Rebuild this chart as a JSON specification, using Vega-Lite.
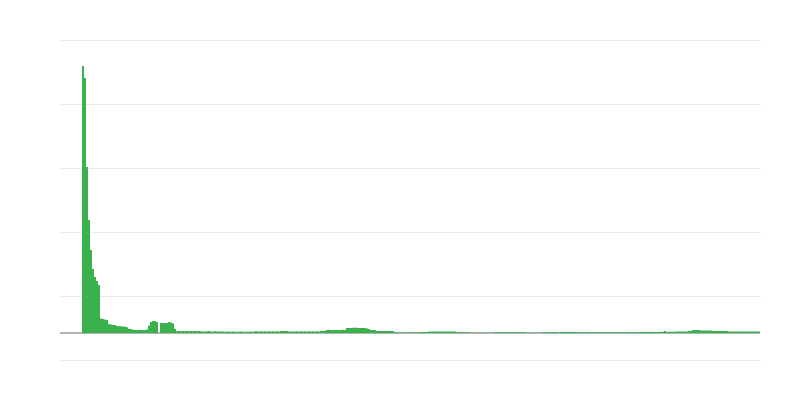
{
  "$schema": "https://vega.github.io/schema/vega-lite/v6.json",
  "width": 700,
  "height": 320,
  "autosize": {"type": "none"},
  "padding": {"left": 60, "top": 40, "right": 40, "bottom": 40},
  "background": "white",
  "config": {"view": {"stroke": null}},
  "data": {"values": [
    {"d":0,"v":267},{"d":1,"v":255},{"d":2,"v":166},{"d":3,"v":113},{"d":4,"v":83},{"d":5,"v":64},{"d":6,"v":56},{"d":7,"v":52},{"d":8,"v":48},{"d":9,"v":14.5},
    {"d":10,"v":14},{"d":11,"v":13.5},{"d":12,"v":13},{"d":13,"v":9},{"d":14,"v":8.5},{"d":15,"v":8},{"d":16,"v":8},{"d":17,"v":7},{"d":18,"v":6.7},{"d":19,"v":6.7},
    {"d":20,"v":6.5},{"d":21,"v":6.5},{"d":22,"v":5.7},{"d":23,"v":4.3},{"d":24,"v":4},{"d":25,"v":3.2},{"d":26,"v":3},{"d":27,"v":3},{"d":28,"v":3.2},{"d":29,"v":3},
    {"d":30,"v":3},{"d":31,"v":3},{"d":32,"v":3.5},{"d":33,"v":7.5},{"d":34,"v":11},{"d":35,"v":12},{"d":36,"v":12},{"d":37,"v":11},{"d":38,"v":0},{"d":39,"v":10},
    {"d":40,"v":10},{"d":41,"v":10},{"d":42,"v":10},{"d":43,"v":11},{"d":44,"v":10.5},{"d":45,"v":9.5},{"d":46,"v":4.3},{"d":47,"v":1.8},{"d":48,"v":2},{"d":49,"v":1.8},
    {"d":50,"v":2},{"d":51,"v":1.8},{"d":52,"v":2},{"d":53,"v":1.8},{"d":54,"v":2},{"d":55,"v":1.8},{"d":56,"v":2},{"d":57,"v":1.8},{"d":58,"v":2},{"d":59,"v":1.8},
    {"d":60,"v":1.5},{"d":61,"v":1.5},{"d":62,"v":1.8},{"d":63,"v":2},{"d":64,"v":1.6},{"d":65,"v":1.5},{"d":66,"v":1.8},{"d":67,"v":1.6},{"d":68,"v":1.5},{"d":69,"v":1.6},
    {"d":70,"v":1.5},{"d":71,"v":1.3},{"d":72,"v":1.4},{"d":73,"v":1.3},{"d":74,"v":1.3},{"d":75,"v":1.4},{"d":76,"v":1.3},{"d":77,"v":1.3},{"d":78,"v":1.3},{"d":79,"v":1.4},
    {"d":80,"v":1.3},{"d":81,"v":1.3},{"d":82,"v":1.3},{"d":83,"v":1.3},{"d":84,"v":1.4},{"d":85,"v":1.3},{"d":86,"v":1.8},{"d":87,"v":1.8},{"d":88,"v":1.6},{"d":89,"v":1.8},
    {"d":90,"v":1.6},{"d":91,"v":1.8},{"d":92,"v":1.6},{"d":93,"v":1.8},{"d":94,"v":1.6},{"d":95,"v":1.8},{"d":96,"v":1.6},{"d":97,"v":1.8},{"d":98,"v":1.6},{"d":99,"v":2},
    {"d":100,"v":2},{"d":101,"v":2},{"d":102,"v":2},{"d":103,"v":1.5},{"d":104,"v":1.6},{"d":105,"v":1.5},{"d":106,"v":1.5},{"d":107,"v":1.8},{"d":108,"v":1.6},{"d":109,"v":1.8},
    {"d":110,"v":1.6},{"d":111,"v":1.8},{"d":112,"v":1.6},{"d":113,"v":1.8},{"d":114,"v":1.6},{"d":115,"v":1.8},{"d":116,"v":1.6},{"d":117,"v":1.8},{"d":118,"v":1.6},{"d":119,"v":2},
    {"d":120,"v":2},{"d":121,"v":2.2},{"d":122,"v":3},{"d":123,"v":3.2},{"d":124,"v":3},{"d":125,"v":3},{"d":126,"v":3},{"d":127,"v":3},{"d":128,"v":3},{"d":129,"v":3},
    {"d":130,"v":3.2},{"d":131,"v":3},{"d":132,"v":5},{"d":133,"v":5},{"d":134,"v":5},{"d":135,"v":5.3},{"d":136,"v":5.3},{"d":137,"v":5.3},{"d":138,"v":5},{"d":139,"v":5},
    {"d":140,"v":5},{"d":141,"v":5},{"d":142,"v":4.5},{"d":143,"v":4},{"d":144,"v":3},{"d":145,"v":3},{"d":146,"v":3},{"d":147,"v":2},{"d":148,"v":2},{"d":149,"v":2},
    {"d":150,"v":2},{"d":151,"v":2},{"d":152,"v":2},{"d":153,"v":2},{"d":154,"v":2},{"d":155,"v":2},{"d":156,"v":1},{"d":157,"v":0.4},{"d":158,"v":0.4},{"d":159,"v":0.4},
    {"d":160,"v":0.4},{"d":161,"v":0.8},{"d":162,"v":0.4},{"d":163,"v":0.4},{"d":164,"v":0.4},{"d":165,"v":0.8},{"d":166,"v":0.8},{"d":167,"v":0.4},{"d":168,"v":0.4},{"d":169,"v":1},
    {"d":170,"v":1},{"d":171,"v":1},{"d":172,"v":1},{"d":173,"v":1.6},{"d":174,"v":1.5},{"d":175,"v":1.5},{"d":176,"v":1.6},{"d":177,"v":1.5},{"d":178,"v":1.5},{"d":179,"v":1.6},
    {"d":180,"v":1.5},{"d":181,"v":1.5},{"d":182,"v":1.6},{"d":183,"v":1.5},{"d":184,"v":1.5},{"d":185,"v":1.6},{"d":186,"v":1.5},{"d":187,"v":0.7},{"d":188,"v":0.7},{"d":189,"v":0.7},
    {"d":190,"v":0.7},{"d":191,"v":0.7},{"d":192,"v":0.7},{"d":193,"v":0.7},{"d":194,"v":0.3},{"d":195,"v":0.3},{"d":196,"v":0.3},{"d":197,"v":0.3},{"d":198,"v":0.3},{"d":199,"v":0.3},
    {"d":200,"v":0.3},{"d":201,"v":0.3},{"d":202,"v":0.3},{"d":203,"v":0.3},{"d":204,"v":0.3},{"d":205,"v":0.3},{"d":206,"v":0.7},{"d":207,"v":0.7},{"d":208,"v":0.7},{"d":209,"v":0.7},
    {"d":210,"v":0.7},{"d":211,"v":0.7},{"d":212,"v":0.7},{"d":213,"v":0.7},{"d":214,"v":0.7},{"d":215,"v":0.7},{"d":216,"v":0.7},{"d":217,"v":0.7},{"d":218,"v":0.7},{"d":219,"v":0.7},
    {"d":220,"v":0.7},{"d":221,"v":0.7},{"d":222,"v":0.3},{"d":223,"v":0.3},{"d":224,"v":0.3},{"d":225,"v":0.3},{"d":226,"v":0.3},{"d":227,"v":0.3},{"d":228,"v":0.3},{"d":229,"v":0.3},
    {"d":230,"v":0.7},{"d":231,"v":0.7},{"d":232,"v":0.7},{"d":233,"v":1},{"d":234,"v":1},{"d":235,"v":1},{"d":236,"v":1},{"d":237,"v":1},{"d":238,"v":0.5},{"d":239,"v":1},
    {"d":240,"v":1},{"d":241,"v":1},{"d":242,"v":1},{"d":243,"v":1},{"d":244,"v":1},{"d":245,"v":1},{"d":246,"v":1},{"d":247,"v":1},{"d":248,"v":0.7},{"d":249,"v":0.7},
    {"d":250,"v":0.7},{"d":251,"v":0.7},{"d":252,"v":0.7},{"d":253,"v":0.7},{"d":254,"v":0.7},{"d":255,"v":0.7},{"d":256,"v":0.7},{"d":257,"v":0.7},{"d":258,"v":0.7},{"d":259,"v":0.7},
    {"d":260,"v":0.7},{"d":261,"v":0.7},{"d":262,"v":0.7},{"d":263,"v":0.7},{"d":264,"v":0.7},{"d":265,"v":0.7},{"d":266,"v":0.7},{"d":267,"v":0.7},{"d":268,"v":0.7},{"d":269,"v":0.7},
    {"d":270,"v":0.7},{"d":271,"v":0.7},{"d":272,"v":0.7},{"d":273,"v":0.7},{"d":274,"v":0.7},{"d":275,"v":0.7},{"d":276,"v":0.7},{"d":277,"v":0.7},{"d":278,"v":1},{"d":279,"v":1},
    {"d":280,"v":1},{"d":281,"v":1},{"d":282,"v":1},{"d":283,"v":1},{"d":284,"v":1},{"d":285,"v":1},{"d":286,"v":1},{"d":287,"v":1},{"d":288,"v":1},{"d":289,"v":1.2},
    {"d":290,"v":1.2},{"d":291,"v":2},{"d":292,"v":1.2},{"d":293,"v":1.2},{"d":294,"v":1.2},{"d":295,"v":1.2},{"d":296,"v":1.2},{"d":297,"v":1.5},{"d":298,"v":1.6},{"d":299,"v":1.5},
    {"d":300,"v":1.6},{"d":301,"v":1.5},{"d":302,"v":1.6},{"d":303,"v":2},{"d":304,"v":2},{"d":305,"v":3},{"d":306,"v":3},{"d":307,"v":3},{"d":308,"v":3},{"d":309,"v":2.5},
    {"d":310,"v":2.5},{"d":311,"v":2.6},{"d":312,"v":2.5},{"d":313,"v":2.6},{"d":314,"v":2.5},{"d":315,"v":2},{"d":316,"v":2},{"d":317,"v":2},{"d":318,"v":2},{"d":319,"v":2},
    {"d":320,"v":2},{"d":321,"v":2},{"d":322,"v":2},{"d":323,"v":1.5},{"d":324,"v":1.6},{"d":325,"v":1.5},{"d":326,"v":1.6},{"d":327,"v":1.5},{"d":328,"v":1.6},{"d":329,"v":1.5},
    {"d":330,"v":1.6},{"d":331,"v":1.5},{"d":332,"v":1.6},{"d":333,"v":1.5},{"d":334,"v":1.6},{"d":335,"v":1.5},{"d":336,"v":1.6},{"d":337,"v":1.5},{"d":338,"v":1.6}
  ]},
  "layer": [
    {
      "mark": {"type": "rule", "color": "#b3b3b3", "strokeWidth": 1},
      "encoding": {"y": {"datum": 0, "type": "quantitative"}}
    },
    {
      "mark": {"type": "bar", "color": "#3bb14e", "width": 2},
      "encoding": {
        "x": {"field": "d", "type": "quantitative", "scale": {"domain": [-11.5, 338.5], "nice": false, "zero": false, "padding": 0}, "axis": null},
        "y": {"field": "v", "type": "quantitative", "scale": {"domain": [-27, 293], "nice": false, "zero": false},
              "axis": {"values": [-27, 37, 101, 165, 229, 293], "labels": false, "ticks": false, "domain": false, "title": null, "grid": true, "gridColor": "#ebebeb", "gridWidth": 1}}
      }
    }
  ]
}
